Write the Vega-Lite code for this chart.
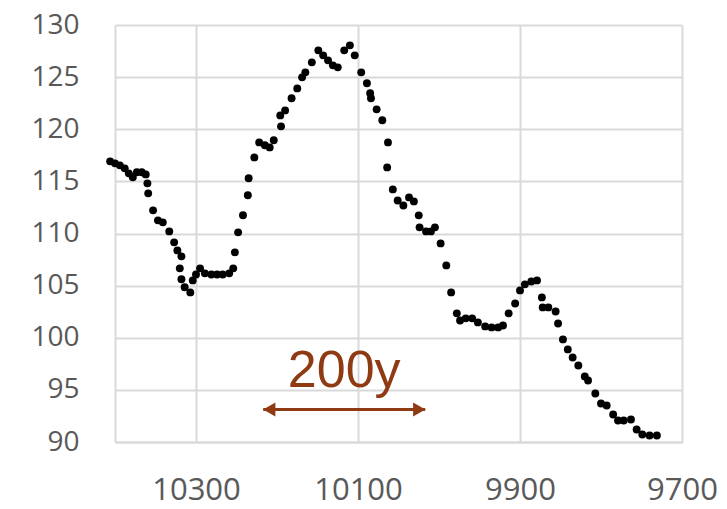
{
  "$schema": "https://vega.github.io/schema/vega-lite/v6.json",
  "width": 567,
  "height": 417,
  "autosize": "none",
  "padding": {"left": 115, "top": 25, "right": 45, "bottom": 67},
  "background": "white",
  "config": {"view": {"stroke": null}, "font": "Open Sans"},
  "datasets": {
    "series": [
      {"year": 10406, "value": 116.92}, {"year": 10400, "value": 116.73}, {"year": 10394, "value": 116.54},
      {"year": 10388, "value": 116.25}, {"year": 10383, "value": 115.77}, {"year": 10378, "value": 115.39},
      {"year": 10373, "value": 115.87}, {"year": 10367, "value": 115.87}, {"year": 10362, "value": 115.67},
      {"year": 10360, "value": 114.81}, {"year": 10359, "value": 113.85}, {"year": 10353, "value": 112.22},
      {"year": 10347, "value": 111.26}, {"year": 10341, "value": 111.07}, {"year": 10333, "value": 110.2},
      {"year": 10327, "value": 109.15}, {"year": 10323, "value": 108.38}, {"year": 10318, "value": 107.81},
      {"year": 10320, "value": 106.66}, {"year": 10318, "value": 105.61}, {"year": 10314, "value": 104.84},
      {"year": 10307, "value": 104.35}, {"year": 10304, "value": 105.5}, {"year": 10300, "value": 106.07},
      {"year": 10295, "value": 106.66}, {"year": 10289, "value": 106.18}, {"year": 10281, "value": 106.07},
      {"year": 10274, "value": 106.07}, {"year": 10267, "value": 106.07}, {"year": 10259, "value": 106.18},
      {"year": 10254, "value": 106.66}, {"year": 10252, "value": 108.19}, {"year": 10248, "value": 110.11},
      {"year": 10242, "value": 111.75}, {"year": 10236, "value": 113.67}, {"year": 10235, "value": 115.3},
      {"year": 10228, "value": 117.3}, {"year": 10222, "value": 118.74}, {"year": 10215, "value": 118.46},
      {"year": 10209, "value": 118.26}, {"year": 10204, "value": 118.94}, {"year": 10195, "value": 120.28},
      {"year": 10196, "value": 121.33}, {"year": 10190, "value": 121.81}, {"year": 10182, "value": 122.97},
      {"year": 10175, "value": 123.92}, {"year": 10169, "value": 124.98}, {"year": 10165, "value": 125.46},
      {"year": 10157, "value": 126.42}, {"year": 10149, "value": 127.57}, {"year": 10143, "value": 127.09},
      {"year": 10137, "value": 126.61}, {"year": 10131, "value": 126.13}, {"year": 10125, "value": 125.94},
      {"year": 10117, "value": 127.57}, {"year": 10110, "value": 128.05}, {"year": 10104, "value": 127.09},
      {"year": 10096, "value": 125.46}, {"year": 10089, "value": 124.41}, {"year": 10085, "value": 123.45},
      {"year": 10084, "value": 122.97}, {"year": 10077, "value": 121.91}, {"year": 10070, "value": 120.86},
      {"year": 10063, "value": 118.74}, {"year": 10064, "value": 116.34}, {"year": 10057, "value": 114.23},
      {"year": 10051, "value": 113.17}, {"year": 10044, "value": 112.69}, {"year": 10037, "value": 113.46},
      {"year": 10031, "value": 113.08}, {"year": 10025, "value": 111.74}, {"year": 10024, "value": 110.59},
      {"year": 10016, "value": 110.2}, {"year": 10010, "value": 110.2}, {"year": 10005, "value": 110.59},
      {"year": 9998, "value": 109.05}, {"year": 9991, "value": 106.94}, {"year": 9985, "value": 104.35},
      {"year": 9978, "value": 102.34}, {"year": 9974, "value": 101.66}, {"year": 9967, "value": 101.86},
      {"year": 9959, "value": 101.86}, {"year": 9952, "value": 101.47}, {"year": 9943, "value": 101.09},
      {"year": 9935, "value": 100.99}, {"year": 9927, "value": 100.99}, {"year": 9921, "value": 101.18},
      {"year": 9914, "value": 102.34}, {"year": 9906, "value": 103.29}, {"year": 9900, "value": 104.54},
      {"year": 9894, "value": 105.12}, {"year": 9886, "value": 105.4}, {"year": 9879, "value": 105.5},
      {"year": 9873, "value": 103.87}, {"year": 9872, "value": 102.91}, {"year": 9865, "value": 102.91},
      {"year": 9856, "value": 102.52}, {"year": 9853, "value": 101.37}, {"year": 9847, "value": 99.84},
      {"year": 9841, "value": 98.88}, {"year": 9835, "value": 98.11}, {"year": 9828, "value": 97.34},
      {"year": 9820, "value": 96.29}, {"year": 9816, "value": 95.9}, {"year": 9807, "value": 94.65},
      {"year": 9800, "value": 93.69}, {"year": 9793, "value": 93.5}, {"year": 9785, "value": 92.64},
      {"year": 9779, "value": 92.06}, {"year": 9772, "value": 92.06}, {"year": 9763, "value": 92.16},
      {"year": 9756, "value": 91.2}, {"year": 9749, "value": 90.72}, {"year": 9740, "value": 90.62},
      {"year": 9731, "value": 90.62}
    ],
    "span": [
      {"start": 10217, "end": 10017, "level": 93.12, "label": "200y", "labelYear": 10117, "labelLevel": 95.26}
    ]
  },
  "layer": [
    {
      "data": {"name": "series"},
      "mark": {"type": "point", "filled": true, "color": "#000000", "size": 62, "opacity": 1},
      "encoding": {
        "x": {
          "field": "year",
          "type": "quantitative",
          "scale": {"domain": [9700, 10400], "reverse": true, "nice": false, "zero": false},
          "axis": {
            "title": null,
            "values": [10300, 10100, 9900, 9700],
            "format": "d",
            "grid": true,
            "gridColor": "#d9d9d9",
            "gridWidth": 2,
            "domainColor": "#d9d9d9",
            "domainWidth": 2,
            "ticks": false,
            "labelFont": "Open Sans",
            "labelFontSize": 31,
            "labelColor": "#595959",
            "labelPadding": 33,
            "labelFlush": false
          }
        },
        "y": {
          "field": "value",
          "type": "quantitative",
          "scale": {"domain": [90, 130], "nice": false, "zero": false},
          "axis": {
            "title": null,
            "values": [90, 95, 100, 105, 110, 115, 120, 125, 130],
            "grid": true,
            "gridColor": "#d9d9d9",
            "gridWidth": 2,
            "domainColor": "#d9d9d9",
            "domainWidth": 2,
            "ticks": false,
            "labelFont": "Open Sans",
            "labelFontSize": 28,
            "labelColor": "#595959",
            "labelPadding": 36
          }
        }
      }
    },
    {
      "data": {"name": "span"},
      "mark": {"type": "rule", "color": "#8e3a12", "strokeWidth": 3},
      "encoding": {
        "x": {"field": "start", "type": "quantitative"},
        "x2": {"field": "end"},
        "y": {"field": "level", "type": "quantitative"}
      }
    },
    {
      "data": {"name": "span"},
      "mark": {"type": "point", "shape": "triangle-left", "filled": true, "color": "#8e3a12", "size": 200, "opacity": 1, "xOffset": 6},
      "encoding": {
        "x": {"field": "start", "type": "quantitative"},
        "y": {"field": "level", "type": "quantitative"}
      }
    },
    {
      "data": {"name": "span"},
      "mark": {"type": "point", "shape": "triangle-right", "filled": true, "color": "#8e3a12", "size": 200, "opacity": 1, "xOffset": -6},
      "encoding": {
        "x": {"field": "end", "type": "quantitative"},
        "y": {"field": "level", "type": "quantitative"}
      }
    },
    {
      "data": {"name": "span"},
      "mark": {"type": "text", "color": "#8e3a12", "font": "Liberation Sans", "fontSize": 52, "align": "center", "baseline": "alphabetic"},
      "encoding": {
        "x": {"field": "labelYear", "type": "quantitative"},
        "y": {"field": "labelLevel", "type": "quantitative"},
        "text": {"field": "label"}
      }
    }
  ]
}
